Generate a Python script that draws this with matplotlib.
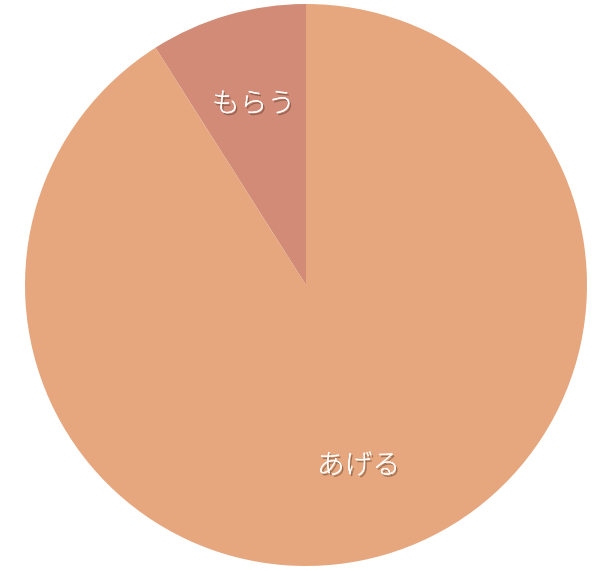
import matplotlib
matplotlib.use("Agg")
import matplotlib.pyplot as plt
import matplotlib.patheffects as pe

labels = ["もらう", "あげる"]
values = [9, 91]
colors = ["#D18B76", "#E6A77F"]

plt.rcParams['font.family'] = ['Noto Sans CJK JP', 'DejaVu Sans']

fig = plt.figure(figsize=(6.05, 5.71), dpi=100)
ax = fig.add_axes([25/605, 5/571, 562/605, 562/571])
wedges, texts = ax.pie(values, labels=labels, colors=colors, startangle=90,
                       counterclock=True, labeldistance=0.67,
                       textprops=dict(color="white", fontsize=20, fontweight="light",
                                      ha="center", va="center"))
for t in texts:
    t.set_path_effects([pe.withSimplePatchShadow(offset=(1.2, -1.5), shadow_rgbFace="#5a3a2a", alpha=0.5), pe.Normal()])
ax.set_aspect("equal")
ax.set_xlim(-1, 1)
ax.set_ylim(-1, 1)
ax.axis("off")
fig.savefig("out.png", dpi=100)
